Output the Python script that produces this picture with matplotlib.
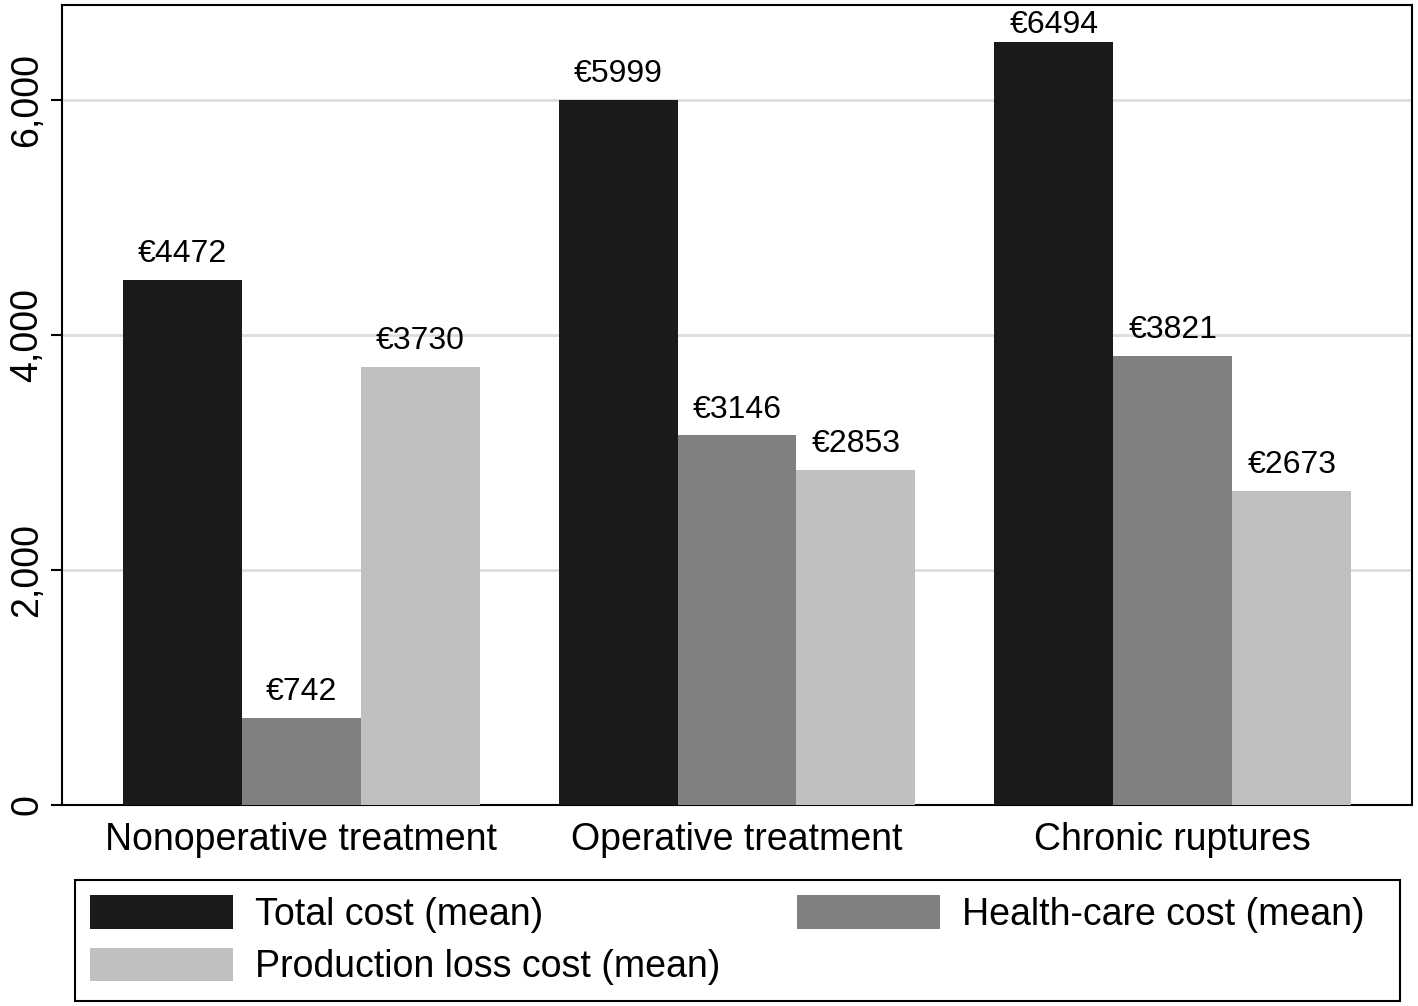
import matplotlib
matplotlib.use('Agg')
import matplotlib.pyplot as plt
from matplotlib.patches import Rectangle
import numpy as np

plt.rcParams['font.family'] = ['Liberation Sans', 'DejaVu Sans']

groups = ['Nonoperative treatment', 'Operative treatment', 'Chronic ruptures']
total_cost = [4472, 5999, 6494]
health_cost = [742, 3146, 3821]
production_cost = [3730, 2853, 2673]
series_names = ['Total cost (mean)', 'Health-care cost (mean)', 'Production loss cost (mean)']
colors = ['#1a1a1a', '#808080', '#bfbfbf']

W, H = 1418, 1006
fig = plt.figure(figsize=(W / 100, H / 100), dpi=100)
ax = fig.add_axes([62 / W, 1 - 805 / H, 1350 / W, 800 / H])

ytop = 6808
x = np.arange(len(groups))
w = 0.273
handles = []
for i, (vals, name, c) in enumerate(zip([total_cost, health_cost, production_cost], series_names, colors)):
    bars = ax.bar(x + (i - 1) * w, vals, w, color=c, label=name, zorder=3)
    handles.append(bars)
    for b, v in zip(bars, vals):
        # keep the label inside the plot region
        ty = min(v + 90, ytop - 300)
        ax.text(b.get_x() + b.get_width() / 2, ty, '€%d' % v,
                ha='center', va='bottom', fontsize=23)

ax.set_xlim(-0.549, 2.549)
ax.set_ylim(0, ytop)
ax.set_yticks([0, 2000, 4000, 6000])
ax.set_yticklabels(['0', '2,000', '4,000', '6,000'], rotation=90, va='center', fontsize=27)
ax.set_xticks(x)
ax.set_xticklabels(groups, fontsize=27)
ax.tick_params(axis='x', length=0, pad=12)
ax.tick_params(axis='y', length=8, width=1.5, pad=4)
ax.grid(axis='y', color='#dddddd', linewidth=2, zorder=0)
for s in ax.spines.values():
    s.set_linewidth(1.5)

# matplotlib fills legend column-wise, so reorder to get the row layout
order = [0, 2, 1]
leg = fig.legend(handles=[handles[k] for k in order], labels=[series_names[k] for k in order], ncol=2,
                 loc='upper left', bbox_to_anchor=(75 / W, 1 - 880 / H),
                 borderaxespad=0, fontsize=27, frameon=False,
                 handlelength=3.8, handleheight=1.0, handletextpad=0.6, borderpad=0.4,
                 labelspacing=0.4, columnspacing=2.05)
# legend box drawn separately so it spans the full width
fig.add_artist(Rectangle((75 / W, 5 / H), 1325 / W, 121 / H,
                         transform=fig.transFigure, fill=False, edgecolor='black', linewidth=1.5))

fig.savefig('out.png', dpi=100)
